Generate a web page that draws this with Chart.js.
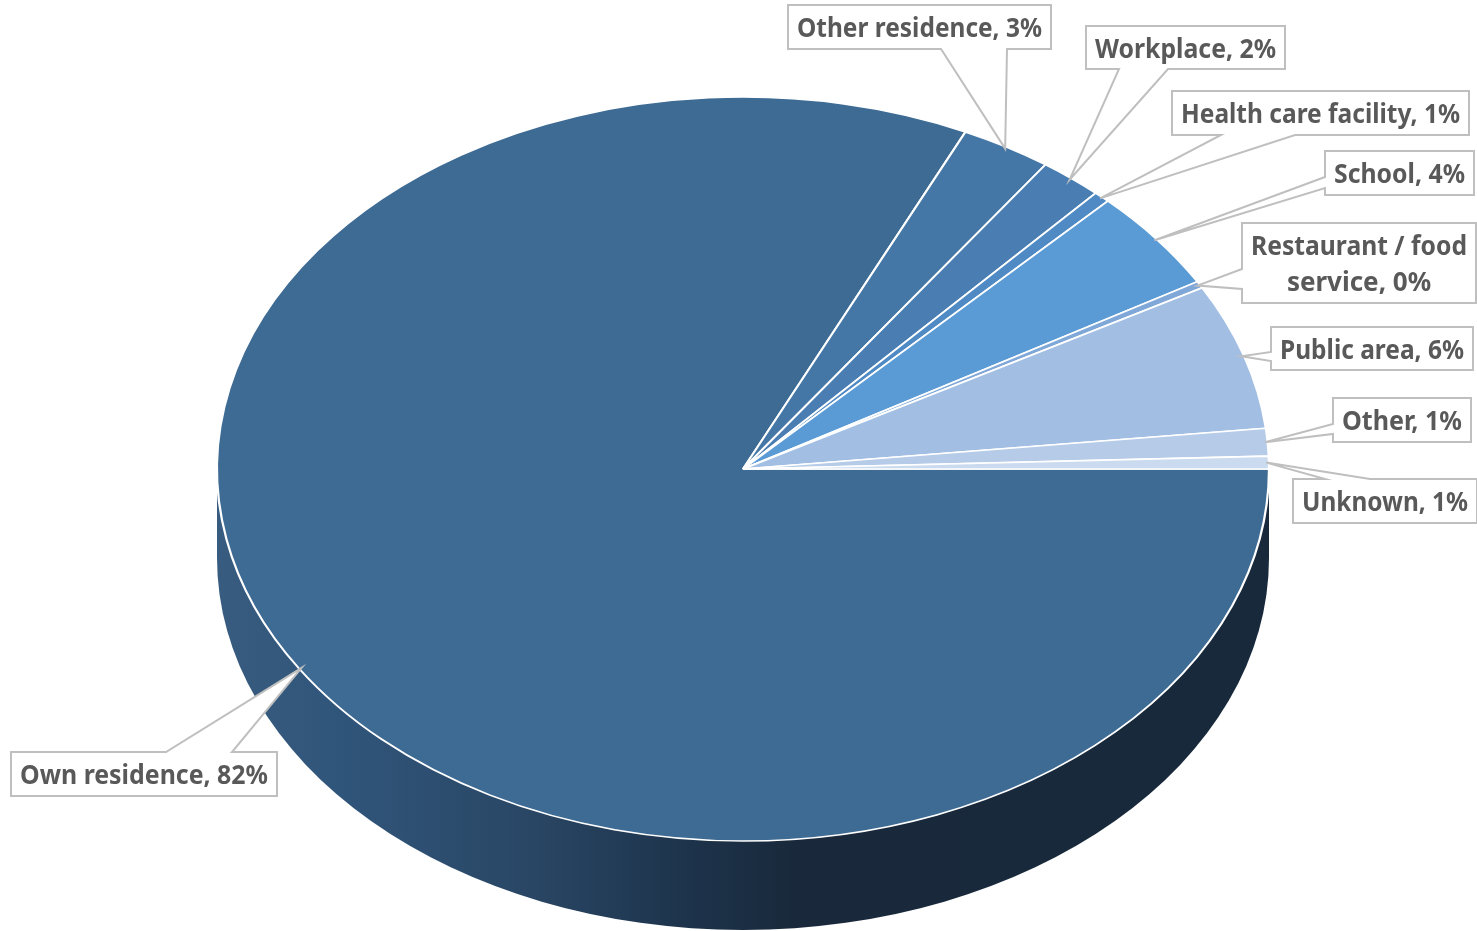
<!DOCTYPE html>
<html>
<head>
<meta charset="utf-8">
<title>Exposure setting</title>
<script src="https://cdn.jsdelivr.net/npm/chart.js@4"></script>
<style>
  html, body { margin: 0; padding: 0; background: #ffffff; }
  canvas { display: block; }
</style>
</head>
<body>
<canvas id="pieChart" width="1477" height="931"></canvas>
<script>
const categories = ['Own residence', 'Other residence', 'Workplace', 'Health care facility', 'School',
    'Restaurant / food service', 'Public area', 'Other', 'Unknown'];
const sliceValues = [81.95, 2.8, 1.95, 0.5, 4.4, 0.3, 6.35, 1.2, 0.55];
const printedPercents = [82, 3, 2, 1, 4, 0, 6, 1, 1];

const sliceColors = ['#3E6B94', '#4477A6', '#4A7EB3', '#4F8AC4', '#5B9BD5', '#7FA8D8', '#A2BFE3', '#B5CBE8', '#CBDBEF'];

// Ellipse of the tilted pie top. Chart.js only draws circles, so it gets stretched in x.
const CENTER_X = 743;
const CENTER_Y = 469;
const RADIUS_X = 526;
const RADIUS_Y = 372;
const DEPTH = 89;
const BORDER = 1.6;

// Callout boxes: [left, top, right, bottom], which side the pointer leaves from and where
const callouts = [
    { box: [11, 752, 277, 796], side: 'top', notch: [166, 232] },
    { box: [788, 5, 1051, 49], side: 'bottom', notch: [941, 1007] },
    { box: [1086, 26, 1285, 69], side: 'bottom', notch: [1119, 1168] },
    { box: [1172, 91, 1469, 135], side: 'bottom', notch: [1221, 1295] },
    { box: [1325, 151, 1474, 195], side: 'left', notch: [177, 188] },
    { box: [1242, 223, 1476, 303], side: 'left', notch: [269, 289], breakAfter: 'food' },
    { box: [1271, 327, 1473, 370], side: 'left', notch: [352, 361] },
    { box: [1333, 398, 1471, 442], side: 'left', notch: [424, 434] },
    { box: [1293, 479, 1477, 523], side: 'top', notch: [1325, 1370] }
];

// Side wall + x stretch, undone again after the slices are drawn
const tiltedPie = {
    id: 'tiltedPie',
    beforeDatasetsDraw(chart) {
        const ctx = chart.ctx;
        const grad = ctx.createLinearGradient(CENTER_X - RADIUS_X, 0, CENTER_X + RADIUS_X, 0);
        grad.addColorStop(0, '#375C7F');
        grad.addColorStop(0.12, '#30557A');
        grad.addColorStop(0.3, '#294664');
        grad.addColorStop(0.45, '#1D334B');
        grad.addColorStop(0.55, '#19293B');
        grad.addColorStop(1, '#17293B');

        ctx.save();
        ctx.fillStyle = grad;
        ctx.beginPath();
        ctx.moveTo(CENTER_X - RADIUS_X, CENTER_Y);
        ctx.lineTo(CENTER_X - RADIUS_X, CENTER_Y + DEPTH);
        ctx.ellipse(CENTER_X, CENTER_Y + DEPTH, RADIUS_X, RADIUS_Y, 0, Math.PI, 0, true);
        ctx.lineTo(CENTER_X + RADIUS_X, CENTER_Y);
        ctx.closePath();
        ctx.fill();
        ctx.restore();

        ctx.save();
        ctx.translate(CENTER_X, CENTER_Y);
        ctx.scale(RADIUS_X / RADIUS_Y, 1);
        ctx.translate(-CENTER_X, -CENTER_Y);
    },
    afterDatasetsDraw(chart) {
        chart.ctx.restore();
    }
};

// Outline of a box with the wedge pointer going to the tip
const traceCallout = (ctx, c, tipX, tipY) => {
    const [l, t, r, b] = c.box;
    const [n0, n1] = c.notch;
    ctx.beginPath();
    ctx.moveTo(l, t);
    if (c.side === 'top') {
        ctx.lineTo(n0, t);
        ctx.lineTo(tipX, tipY);
        ctx.lineTo(n1, t);
    }
    ctx.lineTo(r, t);
    ctx.lineTo(r, b);
    if (c.side === 'bottom') {
        ctx.lineTo(n1, b);
        ctx.lineTo(tipX, tipY);
        ctx.lineTo(n0, b);
    }
    ctx.lineTo(l, b);
    if (c.side === 'left') {
        ctx.lineTo(l, n1);
        ctx.lineTo(tipX, tipY);
        ctx.lineTo(l, n0);
    }
    ctx.closePath();
};

const calloutLabels = {
    id: 'calloutLabels',
    afterDraw(chart) {
        const ctx = chart.ctx;
        const arcs = chart.getDatasetMeta(0).data;
        ctx.save();
        ctx.textAlign = 'center';
        ctx.textBaseline = 'middle';
        ctx.font = 'bold 26px "Noto Sans"';
        callouts.forEach((c, i) => {
            // tip sits at the middle of the slice, just inside the rim
            const mid = (arcs[i].startAngle + arcs[i].endAngle) / 2;
            const tipX = CENTER_X + Math.cos(mid) * RADIUS_X * 0.995;
            const tipY = CENTER_Y + Math.sin(mid) * RADIUS_Y * 0.995;

            traceCallout(ctx, c, tipX, tipY);
            ctx.fillStyle = '#ffffff';
            ctx.fill();
            ctx.strokeStyle = '#BFBFBF';
            ctx.lineWidth = 2;
            ctx.stroke();

            const [l, t, r, b] = c.box;
            let text = categories[i] + ', ' + printedPercents[i] + '%';
            if (c.breakAfter) text = text.replace(c.breakAfter + ' ', c.breakAfter + '\n');
            const lines = text.split('\n');
            const lineHeight = 36;
            const firstY = (t + b) / 2 + 3 - (lines.length - 1) * lineHeight / 2;
            ctx.fillStyle = '#595959';
            lines.forEach((line, k) => {
                ctx.fillText(line, (l + r) / 2, firstY + k * lineHeight, r - l - 18);
            });
        });
        ctx.restore();
    }
};

new Chart(document.getElementById('pieChart').getContext('2d'), {
    type: 'pie',
    data: {
        labels: categories,
        datasets: [{
            data: sliceValues,
            backgroundColor: sliceColors,
            borderColor: '#ffffff',
            borderWidth: BORDER
        }]
    },
    options: {
        responsive: false,
        animation: false,
        rotation: 90,
        layout: {
            padding: {
                left: CENTER_X - RADIUS_Y - BORDER / 2,
                right: 1477 - CENTER_X - RADIUS_Y - BORDER / 2,
                top: CENTER_Y - RADIUS_Y - BORDER / 2,
                bottom: 931 - CENTER_Y - RADIUS_Y - BORDER / 2
            }
        },
        plugins: {
            legend: { display: false },
            tooltip: { enabled: false }
        }
    },
    plugins: [tiltedPie, calloutLabels]
});
</script>
</body>
</html>
